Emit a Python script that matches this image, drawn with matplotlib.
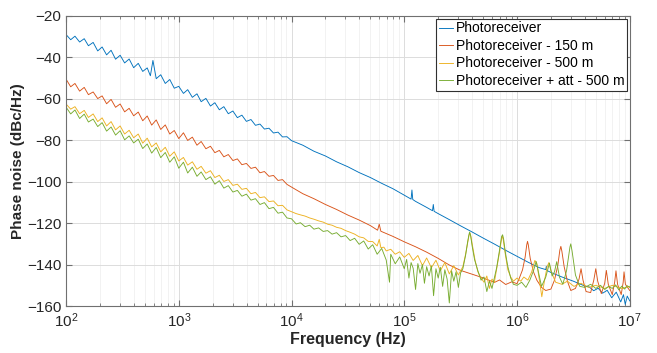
import matplotlib
matplotlib.use("Agg")
import matplotlib.pyplot as plt
import numpy as np

plt.rcParams['font.family'] = ['Liberation Sans', 'DejaVu Sans']
plt.rcParams['mathtext.default'] = 'regular'

# (frequency Hz, phase noise dBc/Hz)
blue = [(100, -29.0), (110, -31.5), (120, -29.8), (132, -32.6), (145, -31.0), (158, -34.4),
        (174, -32.8), (191, -36.9), (209, -35.0), (229, -38.8), (251, -36.6), (275, -40.9),
        (302, -39.0), (331, -42.7), (363, -40.8), (398, -45.0), (437, -42.9), (479, -46.8),
        (525, -45.1), (560, -48.9), (590, -41.5), (631, -50.3), (692, -48.4), (759, -52.6),
        (832, -50.7), (912, -54.9), (1000, -54.0), (1100, -57.4), (1200, -55.6), (1320, -59.3),
        (1450, -57.6), (1580, -61.4), (1740, -59.8), (1910, -63.5), (2090, -61.9), (2290, -65.3),
        (2510, -63.8), (2750, -67.2), (3020, -65.9), (3310, -69.1), (3630, -67.9), (3980, -70.9),
        (4370, -70.0), (4790, -72.8), (5250, -72.2), (5750, -74.6), (6310, -74.2), (6920, -76.5),
        (7590, -76.1), (8320, -78.4), (9120, -78.3), (10000, -80.2), (12600, -82.4), (15800, -85.3),
        (20000, -87.6), (25100, -90.4), (31600, -92.8), (39800, -95.6), (50100, -98.0),
        (63100, -100.8), (79400, -103.4), (100000, -106.5), (115000, -108.4), (117000, -104.0),
        (119000, -108.6), (126000, -109.5), (158000, -112.4), (178000, -114.0), (181000, -111.0),
        (184000, -114.3), (200000, -115.4), (251000, -118.3), (316000, -121.3), (398000, -124.2),
        (501000, -127.2), (631000, -130.1), (794000, -133.1), (1000000, -136.0), (1260000, -138.9),
        (1580000, -141.5), (1800000, -142.4), (1820000, -140.8), (1840000, -142.8), (2000000, -143.8),
        (2510000, -146.0), (3160000, -148.0), (3980000, -150.3), (4370000, -150.8), (4790000, -152.6),
        (5250000, -151.4), (5750000, -153.8), (6310000, -152.4), (6920000, -156.0), (7590000, -153.3),
        (8320000, -158.0), (8800000, -154.5), (9120000, -159.2), (9500000, -155.2), (10000000, -157.5)]

red = [(100, -50.5), (110, -54.2), (120, -52.6), (132, -56.3), (145, -54.5), (158, -58.0),
       (174, -56.7), (191, -59.9), (209, -58.6), (229, -62.4), (251, -60.3), (275, -64.1),
       (302, -62.5), (331, -66.3), (363, -64.6), (398, -68.2), (437, -66.4), (479, -70.6),
       (525, -68.3), (575, -72.7), (631, -70.2), (692, -74.8), (759, -72.6), (832, -77.0),
       (912, -75.3), (1000, -79.2), (1100, -76.4), (1200, -80.1), (1320, -78.5), (1450, -82.4),
       (1580, -80.6), (1740, -84.1), (1910, -82.9), (2090, -86.0), (2290, -84.9), (2510, -88.0),
       (2750, -86.9), (3020, -89.8), (3310, -89.0), (3630, -91.8), (3980, -91.2), (4370, -93.6),
       (4790, -93.0), (5250, -95.7), (5750, -95.1), (6310, -97.4), (6920, -97.0), (7590, -99.4),
       (8320, -99.0), (9120, -101.3), (10000, -102.6), (12600, -105.8), (15800, -108.2),
       (20000, -111.0), (25100, -113.4), (31600, -116.1), (39800, -118.5), (50100, -121.2),
       (58000, -123.4), (60000, -120.5), (62000, -123.9), (79400, -126.4), (100000, -129.0),
       (126000, -131.4), (158000, -134.0), (200000, -137.0), (251000, -140.2), (316000, -142.8),
       (398000, -144.6), (501000, -146.4), (631000, -148.6), (700000, -147.4), (794000, -149.6),
       (900000, -148.3), (1000000, -149.2), (1050000, -146.5), (1120000, -142.5), (1180000, -136.5),
       (1220000, -130.5), (1240000, -128.8), (1260000, -130.5), (1310000, -137.0), (1400000, -143.5),
       (1500000, -147.5), (1650000, -151.0), (1800000, -152.5), (2000000, -151.8), (2150000, -147.5),
       (2300000, -140.5), (2400000, -133.0), (2450000, -131.2), (2500000, -133.5), (2620000, -141.0),
       (2800000, -148.0), (3000000, -152.5), (3300000, -151.5), (3550000, -147.0), (3700000, -142.0),
       (3850000, -147.5), (4100000, -153.0), (4500000, -153.5), (4800000, -147.5), (5000000, -142.0),
       (5200000, -148.0), (5600000, -154.0), (6000000, -149.0), (6200000, -142.8), (6450000, -149.5),
       (7000000, -154.5), (7350000, -148.5), (7550000, -143.0), (7800000, -149.5), (8400000, -154.5),
       (8750000, -148.5), (8900000, -143.5), (9150000, -149.5), (10000000, -152.5)]

yellow = [(100, -62.5), (110, -65.0), (120, -63.8), (132, -67.2), (145, -65.6), (158, -69.0),
          (174, -67.3), (191, -71.0), (209, -69.2), (229, -73.1), (251, -71.0), (275, -75.0),
          (302, -73.1), (331, -77.0), (363, -75.2), (398, -78.8), (437, -77.0), (479, -81.4),
          (525, -79.0), (575, -83.2), (631, -81.3), (692, -85.6), (759, -83.4), (832, -87.7),
          (912, -85.6), (1000, -90.0), (1100, -88.3), (1200, -92.0), (1320, -90.4), (1450, -94.0),
          (1580, -92.6), (1740, -95.9), (1910, -94.7), (2090, -98.0), (2290, -96.9), (2510, -99.9),
          (2750, -99.0), (3020, -101.8), (3310, -101.2), (3630, -103.7), (3980, -103.2), (4370, -105.8),
          (4790, -105.2), (5250, -107.7), (5750, -107.3), (6310, -109.6), (6920, -109.3), (7590, -111.6),
          (8320, -111.4), (9120, -113.6), (10000, -114.5), (11000, -115.4), (12000, -116.0),
          (13200, -116.6), (14500, -117.5), (15800, -118.1), (17400, -118.9), (19100, -119.5),
          (20900, -120.5), (22900, -121.0), (25100, -122.0), (27500, -122.5), (30200, -123.6),
          (33100, -124.4), (36300, -125.3), (39800, -126.6), (43700, -127.1), (47900, -128.8),
          (52500, -128.9), (57500, -131.0), (60000, -127.8), (62000, -131.8), (66000, -131.6),
          (69200, -133.4), (75900, -132.6), (83200, -135.0), (91200, -133.8), (100000, -136.5),
          (110000, -134.6), (120000, -138.0), (132000, -135.6), (145000, -140.5), (158000, -136.8),
          (174000, -141.5), (191000, -137.9), (209000, -143.0), (229000, -139.0), (251000, -144.5),
          (275000, -140.5), (302000, -145.0), (331000, -141.0), (350000, -135.0), (365000, -129.5),
          (375000, -126.0), (382000, -124.8), (390000, -126.5), (405000, -131.5), (425000, -138.0),
          (450000, -143.5), (480000, -146.5), (510000, -148.5), (540000, -145.5), (570000, -151.5),
          (600000, -147.0), (630000, -148.5), (660000, -142.0), (700000, -134.0), (730000, -127.5),
          (742000, -126.3), (755000, -128.0), (790000, -135.5), (830000, -142.5), (880000, -146.0),
          (930000, -148.0), (1000000, -146.5), (1080000, -148.0), (1150000, -146.0), (1250000, -147.5),
          (1350000, -143.5), (1440000, -138.0), (1500000, -139.5), (1580000, -147.5), (1660000, -155.5),
          (1750000, -148.0), (1850000, -141.0), (1920000, -139.0), (2000000, -143.0), (2200000, -148.5),
          (2500000, -149.5), (2800000, -148.0), (3200000, -150.5), (3700000, -149.0), (4300000, -151.0),
          (5000000, -150.0), (6000000, -151.5), (7000000, -150.0), (8500000, -151.5), (10000000, -150.5)]

green = [(100, -64.0), (110, -67.3), (120, -65.4), (132, -69.5), (145, -67.4), (158, -71.2),
         (174, -69.8), (191, -73.4), (209, -71.5), (229, -75.6), (251, -73.6), (275, -77.5),
         (302, -75.4), (331, -79.8), (363, -77.9), (398, -81.3), (437, -79.5), (479, -84.0),
         (525, -81.8), (575, -86.2), (631, -83.5), (692, -88.4), (759, -85.9), (832, -90.6),
         (912, -88.0), (1000, -93.5), (1100, -90.6), (1200, -95.8), (1320, -93.0), (1450, -97.4),
         (1580, -95.3), (1740, -99.0), (1910, -97.6), (2090, -101.2), (2290, -99.5), (2510, -103.1),
         (2750, -101.9), (3020, -105.0), (3310, -104.2), (3630, -107.0), (3980, -106.0), (4370, -108.9),
         (4790, -108.2), (5250, -111.0), (5750, -110.1), (6310, -113.0), (6920, -112.4), (7590, -115.2),
         (8320, -114.7), (9120, -117.5), (10000, -117.9), (11000, -120.4), (12000, -119.8),
         (13200, -121.7), (14500, -121.0), (15800, -122.9), (17400, -122.3), (19100, -124.0),
         (20900, -123.6), (22900, -125.3), (25100, -124.6), (27500, -126.6), (30200, -126.0),
         (33100, -128.4), (36300, -127.3), (39800, -130.2), (43700, -128.6), (47900, -132.5),
         (52500, -130.4), (57500, -135.0), (63100, -132.2), (69200, -137.8), (74000, -148.5),
         (75900, -135.0), (83200, -139.6), (91200, -136.3), (100000, -142.0), (105000, -137.5),
         (110000, -146.5), (115000, -139.0), (120000, -141.8), (126000, -152.0), (132000, -139.5),
         (138000, -144.2), (145000, -140.0), (151000, -149.0), (158000, -141.0), (166000, -145.5),
         (174000, -140.6), (182000, -155.0), (191000, -142.0), (200000, -146.5), (209000, -141.3),
         (219000, -150.5), (229000, -142.5), (240000, -147.0), (251000, -158.5), (263000, -143.0),
         (275000, -148.0), (288000, -143.5), (302000, -151.0), (316000, -144.0), (331000, -142.0),
         (350000, -135.5), (365000, -129.0), (375000, -125.5), (380000, -124.3), (388000, -126.0),
         (400000, -131.0), (420000, -137.5), (450000, -143.0), (480000, -147.5), (510000, -146.0),
         (540000, -153.0), (570000, -148.0), (600000, -151.5), (630000, -146.5), (660000, -141.5),
         (700000, -133.0), (730000, -126.5), (745000, -125.6), (760000, -127.5), (790000, -134.5),
         (830000, -141.0), (880000, -146.5), (930000, -149.5), (1000000, -150.0), (1100000, -148.5),
         (1200000, -151.0), (1300000, -147.5), (1400000, -143.0), (1480000, -138.5), (1550000, -143.5),
         (1650000, -150.5), (1800000, -146.0), (1940000, -139.3), (2050000, -145.5), (2150000, -143.5),
         (2250000, -138.6), (2380000, -146.0), (2550000, -149.5), (2750000, -143.0), (2950000, -131.5),
         (3000000, -130.0), (3080000, -133.5), (3300000, -145.0), (3600000, -150.5), (4000000, -151.0),
         (4500000, -149.5), (5000000, -151.5), (5500000, -150.0), (6000000, -152.0), (6500000, -150.5),
         (7000000, -151.5), (7500000, -149.8), (8000000, -152.2), (8500000, -150.4), (9000000, -151.8),
         (9500000, -150.2), (10000000, -151.0)]

labels = ['Photoreceiver', 'Photoreceiver - 150 m', 'Photoreceiver - 500 m',
          'Photoreceiver + att - 500 m']
colors = ['#0072BD', '#D95319', '#EDB120', '#77AC30']

fig = plt.figure(figsize=(6.57, 3.53), dpi=100)
ax = fig.add_axes([0.1005, 0.133, 0.8580, 0.822])

for data, lab, c in zip([blue, red, yellow, green], labels, colors):
    f, p = np.array(data).T
    ax.semilogx(f, p, color=c, lw=0.65, label=lab)

ax.set_xlim(1e2, 1e7)
ax.set_ylim(-160, -20)
ax.set_yticks(np.arange(-160, -19, 20))
ax.grid(True, which='major', color='#dcdcdc', lw=0.7)
ax.grid(True, which='minor', axis='x', color='#f0f0f0', lw=0.6)
ax.tick_params(which='both', direction='in', top=True, right=True,
               labelsize=11, colors='#707070', labelcolor='#262626')
ax.tick_params(which='major', length=4)
ax.tick_params(which='minor', length=2)
for s in ax.spines.values():
    s.set_color('#707070')
    s.set_linewidth(0.8)

ax.set_xlabel('Frequency (Hz)', fontsize=11.5, fontweight='bold', color='#262626', labelpad=2)
ax.set_ylabel('Phase noise (dBc/Hz)', fontsize=11, fontweight='bold', color='#262626', labelpad=1)

leg = ax.legend(loc='upper right', fontsize=10, frameon=True, fancybox=False,
                edgecolor='#303030', framealpha=1, handlelength=1.0, handletextpad=0.2,
                labelspacing=0.25, borderpad=0.2, borderaxespad=0.2)
leg.get_frame().set_linewidth(0.8)

fig.savefig('out.png', dpi=100)
